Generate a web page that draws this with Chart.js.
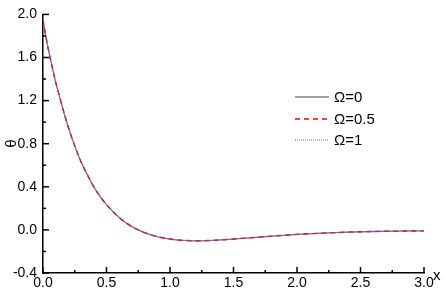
<!DOCTYPE html>
<html>
<head>
<meta charset="utf-8">
<script src="https://cdn.jsdelivr.net/npm/chart.js@4"></script>
<style>
  html, body { margin: 0; padding: 0; background: #fff; }
  #wrap { width: 443px; height: 291px; }
</style>
</head>
<body>
<div id="wrap"><canvas id="chart"></canvas></div>
<script>
// data
const xs = [0, 0.025, 0.05, 0.075, 0.1, 0.125, 0.15, 0.2, 0.25, 0.3, 0.35, 0.4, 0.45, 0.5,
  0.6, 0.7, 0.8, 0.9, 1.0, 1.1, 1.2, 1.3, 1.4, 1.5, 1.6, 1.7, 1.8, 1.9, 2.0,
  2.2, 2.4, 2.6, 2.8, 3.0];
const theta0 = [1.95, 1.78, 1.63, 1.50, 1.37, 1.26, 1.15, 0.95, 0.78, 0.63, 0.51, 0.40, 0.31, 0.235,
  0.115, 0.03, -0.025, -0.063, -0.085, -0.097, -0.101, -0.099, -0.093, -0.085, -0.076, -0.067, -0.058, -0.050, -0.042,
  -0.030, -0.021, -0.015, -0.011, -0.009];
const theta05 = [1.95, 1.78, 1.63, 1.50, 1.37, 1.26, 1.15, 0.95, 0.78, 0.63, 0.51, 0.40, 0.31, 0.235,
  0.115, 0.03, -0.025, -0.063, -0.085, -0.097, -0.101, -0.099, -0.093, -0.085, -0.076, -0.067, -0.058, -0.050, -0.042,
  -0.030, -0.021, -0.015, -0.011, -0.009];
const theta1 = [1.95, 1.78, 1.63, 1.50, 1.37, 1.26, 1.15, 0.95, 0.78, 0.63, 0.51, 0.40, 0.31, 0.235,
  0.115, 0.03, -0.025, -0.063, -0.085, -0.097, -0.101, -0.099, -0.093, -0.085, -0.076, -0.067, -0.058, -0.050, -0.042,
  -0.030, -0.021, -0.015, -0.011, -0.009];
const seriesNames = ['Ω=0', 'Ω=0.5', 'Ω=1'];

const toPts = ys => xs.map((x, i) => ({ x: x, y: ys[i] }));
const FONT = 'Liberation Sans, Arial, sans-serif';
const isMult = (v, step) => Math.abs(v / step - Math.round(v / step)) < 1e-6;
const fmt = v => (Math.abs(v) < 1e-9 ? 0 : v).toFixed(1);

// ticks pointing inward + legend inside the plot + "x" label
const decorPlugin = {
  id: 'decor',
  afterDraw(chart) {
    const ctx = chart.ctx;
    const xS = chart.scales.x, yS = chart.scales.y;
    const a = chart.chartArea;
    ctx.save();
    ctx.strokeStyle = '#000';
    ctx.lineWidth = 1.5;
    xS.ticks.forEach(t => {
      const px = xS.getPixelForValue(t.value);
      ctx.beginPath();
      ctx.moveTo(px, a.bottom);
      ctx.lineTo(px, a.bottom - (isMult(t.value, 0.5) ? 6 : 3));
      ctx.stroke();
    });
    yS.ticks.forEach(t => {
      const py = yS.getPixelForValue(t.value);
      ctx.beginPath();
      ctx.moveTo(a.left, py);
      ctx.lineTo(a.left + (isMult(t.value, 0.4) ? 6 : 3), py);
      ctx.stroke();
    });

    // legend (drawn in the dataset order of the source figure)
    ctx.font = '15px ' + FONT;
    ctx.textBaseline = 'middle';
    ctx.fillStyle = '#000';
    const rows = [97, 119, 140];
    chart.data.datasets.forEach((ds, i) => {
      ctx.beginPath();
      ctx.strokeStyle = ds.borderColor;
      ctx.lineWidth = ds.borderWidth;
      ctx.setLineDash(ds.borderDash || []);
      ctx.moveTo(295, rows[i]);
      ctx.lineTo(329, rows[i]);
      ctx.stroke();
      ctx.setLineDash([]);
      ctx.fillText(ds.label, 334, rows[i] + 1);
    });

    ctx.font = '15px ' + FONT;
    ctx.fillText('x', 433, 276);
    ctx.restore();
  }
};

new Chart(document.getElementById('chart'), {
  type: 'line',
  data: {
    datasets: [
      { label: seriesNames[0], data: toPts(theta0), borderColor: '#808080', borderWidth: 1.3, order: 2 },
      { label: seriesNames[1], data: toPts(theta05), borderColor: '#ff0000', borderWidth: 1.4, borderDash: [5, 4], order: 1 },
      { label: seriesNames[2], data: toPts(theta1), borderColor: '#5c5cff', borderWidth: 1, borderDash: [1, 1], order: 0 }
    ]
  },
  options: {
    responsive: true,
    maintainAspectRatio: false,
    animation: false,
    layout: { padding: { top: 6, right: 19, left: 0, bottom: 0 } },
    elements: {
      point: { radius: 0 },
      line: { cubicInterpolationMode: 'monotone', fill: false }
    },
    plugins: {
      legend: { display: false },
      tooltip: { enabled: false }
    },
    scales: {
      x: {
        type: 'linear',
        min: 0,
        max: 3,
        grid: { display: false, drawTicks: false },
        border: { display: true, color: '#000', width: 1.5 },
        ticks: {
          stepSize: 0.25,
          padding: 2,
          color: '#000',
          maxRotation: 0,
          autoSkip: false,
          font: { family: FONT, size: 14 },
          callback: v => isMult(v, 0.5) ? fmt(v) : ''
        },
        afterFit: s => { s.height = 18; }
      },
      y: {
        min: -0.4,
        max: 2.0,
        grid: { display: false, drawTicks: false },
        border: { display: true, color: '#000', width: 1.5 },
        title: { display: true, text: 'θ', color: '#000', font: { family: FONT, size: 15 }, padding: { top: 3, bottom: 0 } },
        ticks: {
          stepSize: 0.2,
          padding: 6,
          color: '#000',
          autoSkip: false,
          font: { family: FONT, size: 14 },
          callback: v => isMult(v, 0.4) ? fmt(v) : ''
        },
        afterFit: s => { s.width = 43; }
      }
    }
  },
  plugins: [decorPlugin]
});
</script>
</body>
</html>
